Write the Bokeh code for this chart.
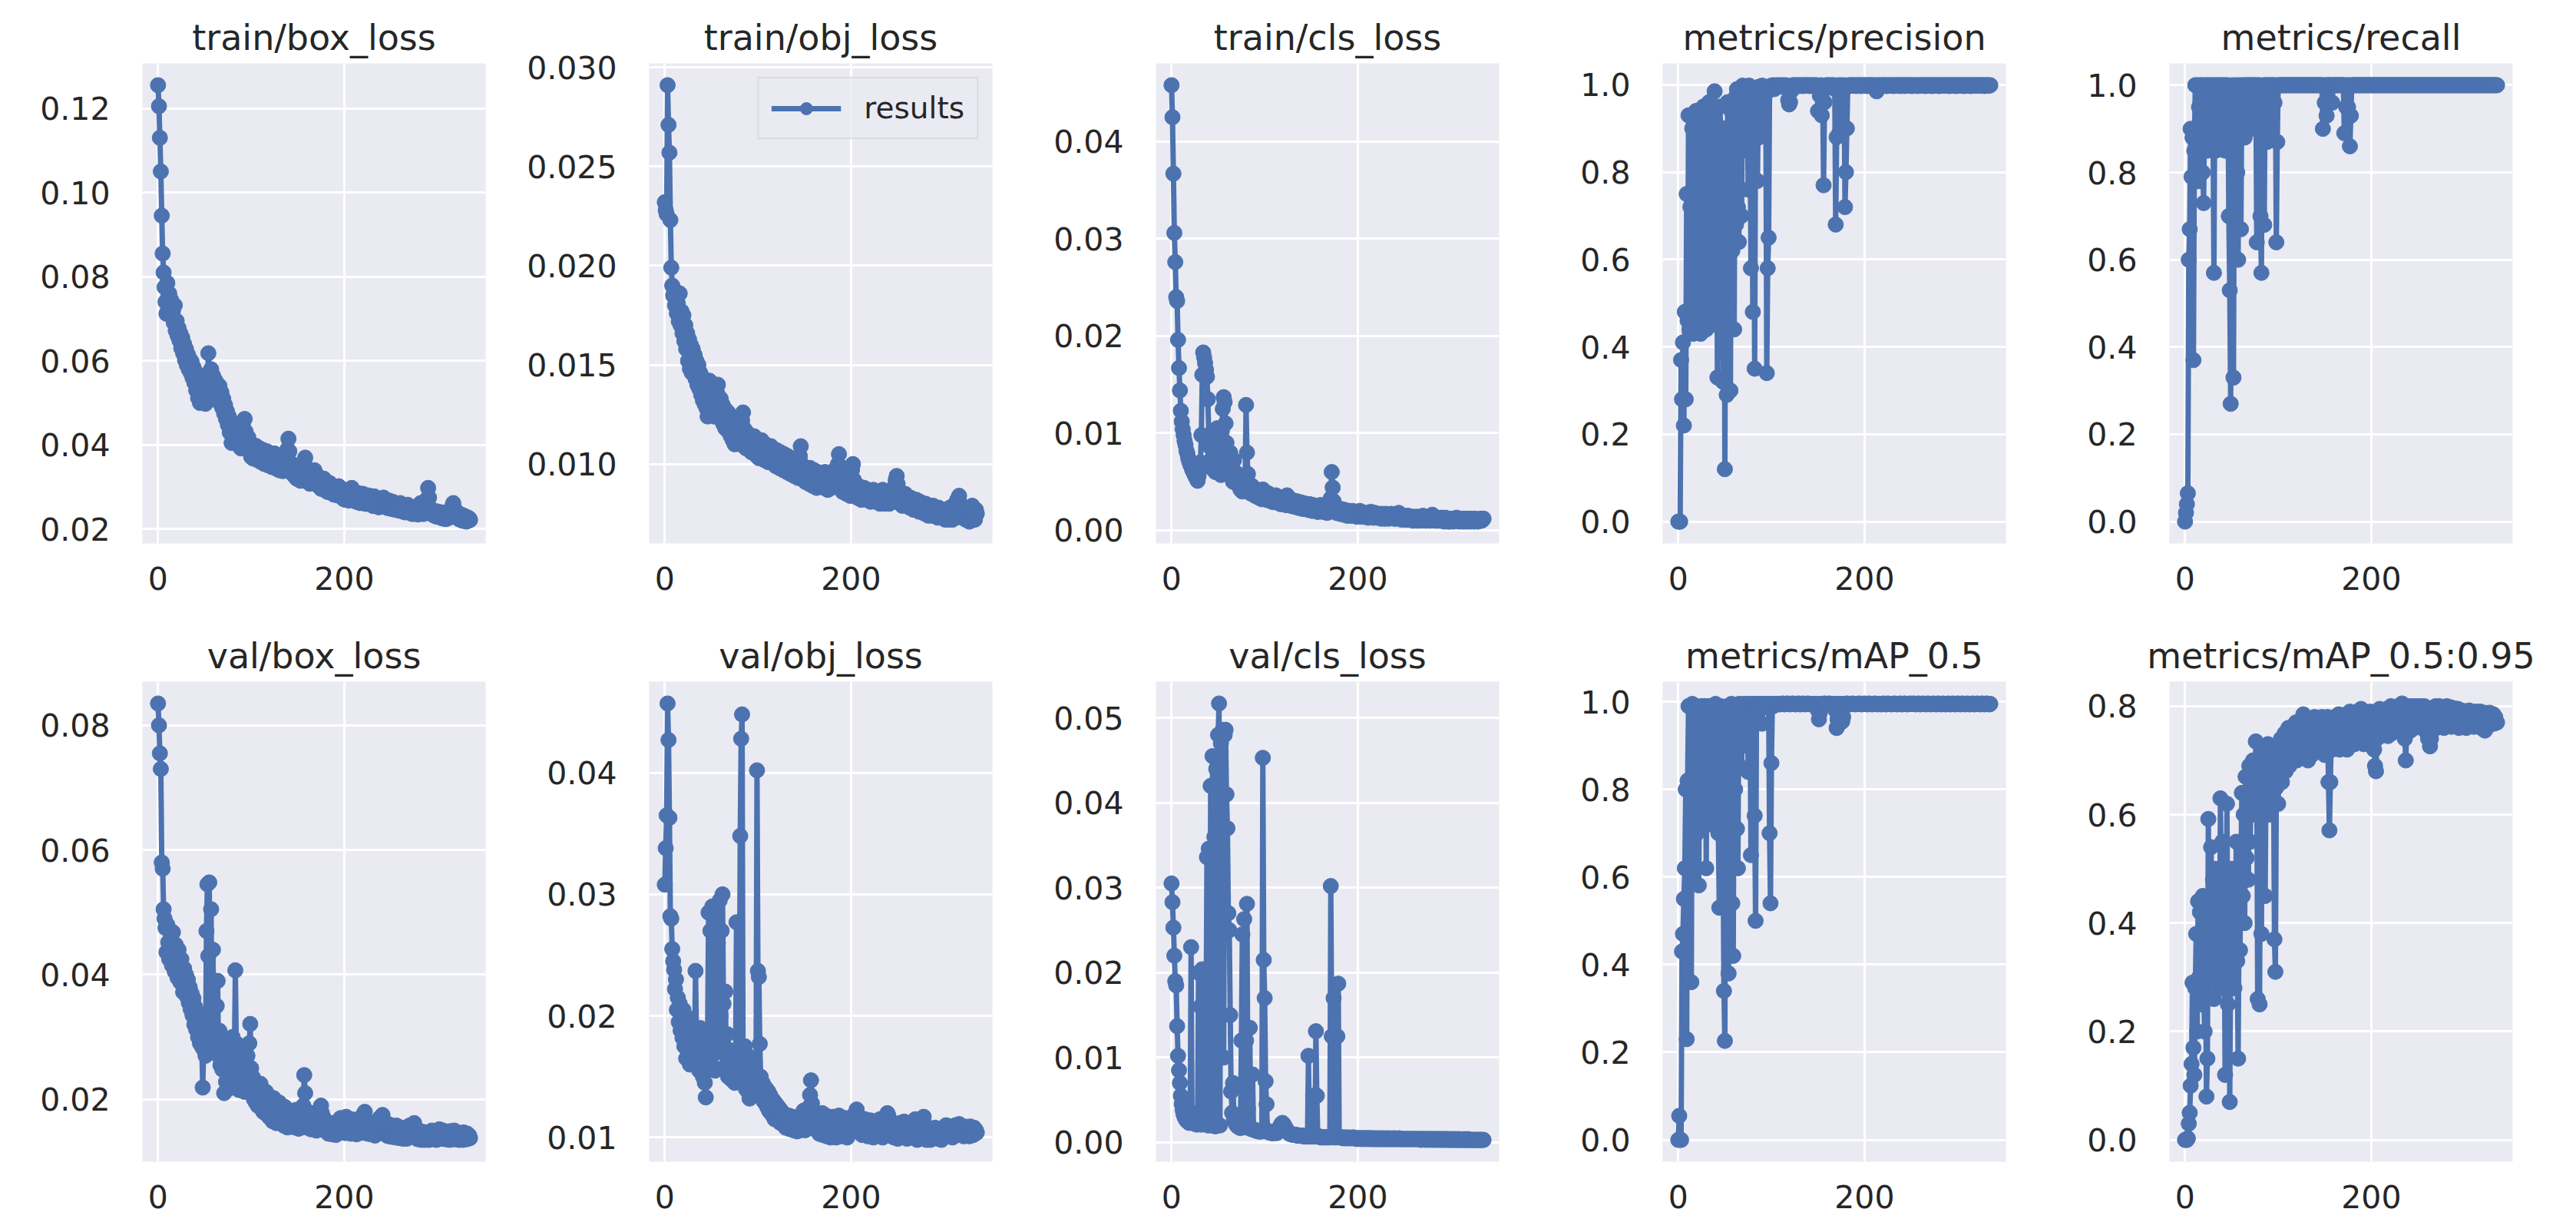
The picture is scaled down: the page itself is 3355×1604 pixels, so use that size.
from bokeh.plotting import figure
from bokeh.layouts import row, column
from bokeh.models import Range1d, FixedTicker, PrintfTickFormatter, Legend, LegendItem
from bokeh.embed import file_html
from bokeh.resources import INLINE

# ---- per-epoch training log (epochs 0..335) ----
train_box = [
    0.1255, 0.1205, 0.1130, 0.1050, 0.0945, 0.0855, 0.0810, 0.0775, 0.0740, 0.0712, 0.0785, 0.0752,
    0.0760, 0.0728, 0.0745, 0.0705, 0.0718, 0.0690, 0.0732, 0.0672, 0.0695, 0.0660, 0.0678, 0.0648,
    0.0665, 0.0630, 0.0655, 0.0618, 0.0640, 0.0602, 0.0628, 0.0590, 0.0615, 0.0580, 0.0605, 0.0572,
    0.0598, 0.0560, 0.0585, 0.0548, 0.0575, 0.0530, 0.0562, 0.0512, 0.0548, 0.0500, 0.0540, 0.0505,
    0.0552, 0.0515, 0.0545, 0.0498, 0.0560, 0.0525, 0.0618, 0.0572, 0.0550, 0.0580, 0.0535, 0.0565,
    0.0520, 0.0555, 0.0512, 0.0548, 0.0530, 0.0505, 0.0540, 0.0498, 0.0525, 0.0488, 0.0510, 0.0475,
    0.0495, 0.0462, 0.0480, 0.0448, 0.0468, 0.0430, 0.0455, 0.0405, 0.0440, 0.0418, 0.0452, 0.0425,
    0.0438, 0.0410, 0.0428, 0.0398, 0.0420, 0.0392, 0.0435, 0.0448, 0.0420, 0.0462, 0.0432, 0.0410,
    0.0395, 0.0418, 0.0385, 0.0402, 0.0372, 0.0395, 0.0368, 0.0390, 0.0375, 0.0398, 0.0365, 0.0385,
    0.0372, 0.0392, 0.0360, 0.0380, 0.0368, 0.0388, 0.0355, 0.0378, 0.0362, 0.0385, 0.0352, 0.0370,
    0.0358, 0.0378, 0.0348, 0.0372, 0.0355, 0.0380, 0.0345, 0.0365, 0.0350, 0.0372, 0.0340, 0.0362,
    0.0348, 0.0368, 0.0338, 0.0360, 0.0345, 0.0365, 0.0372, 0.0390, 0.0415, 0.0385, 0.0350, 0.0335,
    0.0355, 0.0330, 0.0348, 0.0325, 0.0342, 0.0320, 0.0340, 0.0318, 0.0338, 0.0315, 0.0345, 0.0322,
    0.0350, 0.0362, 0.0370, 0.0345, 0.0335, 0.0312, 0.0330, 0.0308, 0.0328, 0.0310, 0.0335, 0.0312,
    0.0340, 0.0318, 0.0330, 0.0305, 0.0325, 0.0302, 0.0318, 0.0296, 0.0315, 0.0298, 0.0320, 0.0295,
    0.0312, 0.0290, 0.0308, 0.0288, 0.0310, 0.0292, 0.0305, 0.0285, 0.0302, 0.0282, 0.0300, 0.0285,
    0.0298, 0.0280, 0.0302, 0.0283, 0.0296, 0.0278, 0.0295, 0.0272, 0.0292, 0.0270, 0.0290, 0.0275,
    0.0288, 0.0268, 0.0292, 0.0275, 0.0298, 0.0280, 0.0290, 0.0270, 0.0286, 0.0265, 0.0282, 0.0268,
    0.0285, 0.0262, 0.0280, 0.0266, 0.0284, 0.0270, 0.0278, 0.0260, 0.0276, 0.0262, 0.0280, 0.0264,
    0.0275, 0.0258, 0.0272, 0.0255, 0.0278, 0.0262, 0.0274, 0.0256, 0.0270, 0.0252, 0.0268, 0.0255,
    0.0272, 0.0258, 0.0275, 0.0260, 0.0270, 0.0252, 0.0266, 0.0250, 0.0268, 0.0254, 0.0262, 0.0248,
    0.0265, 0.0250, 0.0262, 0.0246, 0.0260, 0.0248, 0.0258, 0.0244, 0.0262, 0.0250, 0.0256, 0.0242,
    0.0255, 0.0240, 0.0252, 0.0242, 0.0258, 0.0245, 0.0250, 0.0238, 0.0248, 0.0236, 0.0252, 0.0240,
    0.0250, 0.0238, 0.0246, 0.0235, 0.0255, 0.0242, 0.0262, 0.0248, 0.0245, 0.0236, 0.0250, 0.0240,
    0.0258, 0.0272, 0.0298, 0.0275, 0.0250, 0.0240, 0.0246, 0.0234, 0.0244, 0.0232, 0.0240, 0.0230,
    0.0242, 0.0230, 0.0238, 0.0228, 0.0240, 0.0226, 0.0236, 0.0225, 0.0238, 0.0224, 0.0235, 0.0226,
    0.0240, 0.0228, 0.0245, 0.0232, 0.0255, 0.0262, 0.0250, 0.0236, 0.0242, 0.0228, 0.0238, 0.0224,
    0.0236, 0.0222, 0.0234, 0.0220, 0.0232, 0.0223, 0.0230, 0.0218, 0.0228, 0.0220, 0.0226, 0.0222,
]

train_obj = [
    0.0232, 0.0228, 0.0226, 0.0291, 0.0271, 0.0257, 0.0223, 0.0199, 0.0190, 0.0185, 0.0188, 0.0180,
    0.0184, 0.0176, 0.0181, 0.0172, 0.0186, 0.0170, 0.0177, 0.0166, 0.0175, 0.0162, 0.0170, 0.0158,
    0.0166, 0.0152, 0.0163, 0.0148, 0.0160, 0.0146, 0.0158, 0.0150, 0.0155, 0.0143, 0.0152, 0.0140,
    0.0150, 0.0138, 0.0146, 0.0135, 0.0144, 0.0132, 0.0140, 0.0130, 0.0138, 0.0128, 0.0124, 0.0135,
    0.0142, 0.0130, 0.0136, 0.0126, 0.0134, 0.0124, 0.0132, 0.0128, 0.0136, 0.0140, 0.0130, 0.0125,
    0.0133, 0.0122, 0.0130, 0.0120, 0.0128, 0.0118, 0.0127, 0.0121, 0.0126, 0.0116, 0.0124, 0.0114,
    0.0122, 0.0112, 0.0120, 0.0110, 0.0118, 0.0113, 0.0121, 0.0115, 0.0119, 0.0110, 0.0117, 0.0122,
    0.0126, 0.0118, 0.0114, 0.0108, 0.0116, 0.0110, 0.0115, 0.0107, 0.0113, 0.0106, 0.0112, 0.0108,
    0.0114, 0.0105, 0.0112, 0.0104, 0.0110, 0.0103, 0.0111, 0.0106, 0.0112, 0.0104, 0.0109, 0.0102,
    0.0110, 0.0103, 0.0108, 0.0101, 0.0107, 0.0102, 0.0109, 0.0104, 0.0106, 0.0100, 0.0105, 0.0099,
    0.0107, 0.0100, 0.0104, 0.0098, 0.0106, 0.0099, 0.0103, 0.0097, 0.0105, 0.0098, 0.0102, 0.0096,
    0.0104, 0.0097, 0.0101, 0.0095, 0.0103, 0.0096, 0.0100, 0.0094, 0.0102, 0.0095, 0.0099, 0.0093,
    0.0101, 0.0104, 0.0109, 0.0100, 0.0096, 0.0092, 0.0098, 0.0091, 0.0097, 0.0093, 0.0096, 0.0090,
    0.0098, 0.0092, 0.0095, 0.0089, 0.0097, 0.0091, 0.0094, 0.0088, 0.0096, 0.0090, 0.0093, 0.0089,
    0.0095, 0.0090, 0.0093, 0.0088, 0.0096, 0.0089, 0.0092, 0.0087, 0.0094, 0.0090, 0.0092, 0.0088,
    0.0094, 0.0089, 0.0096, 0.0091, 0.0098, 0.0093, 0.0100, 0.0105, 0.0099, 0.0092, 0.0090, 0.0086,
    0.0092, 0.0087, 0.0090, 0.0085, 0.0091, 0.0086, 0.0089, 0.0084, 0.0093, 0.0097, 0.0100, 0.0092,
    0.0088, 0.0084, 0.0087, 0.0083, 0.0089, 0.0085, 0.0088, 0.0082, 0.0087, 0.0084, 0.0088, 0.0083,
    0.0086, 0.0082, 0.0087, 0.0083, 0.0085, 0.0081, 0.0086, 0.0082, 0.0087, 0.0083, 0.0085, 0.0081,
    0.0086, 0.0082, 0.0084, 0.0080, 0.0085, 0.0081, 0.0087, 0.0082, 0.0084, 0.0080, 0.0085, 0.0081,
    0.0084, 0.0080, 0.0086, 0.0082, 0.0085, 0.0081, 0.0087, 0.0089, 0.0092, 0.0094, 0.0090, 0.0086,
    0.0083, 0.0080, 0.0084, 0.0079, 0.0083, 0.0080, 0.0085, 0.0081, 0.0083, 0.0079, 0.0082, 0.0078,
    0.0083, 0.0079, 0.0082, 0.0077, 0.0081, 0.0078, 0.0082, 0.0077, 0.0080, 0.0076, 0.0081, 0.0077,
    0.0080, 0.0076, 0.0079, 0.0075, 0.0080, 0.0076, 0.0078, 0.0074, 0.0079, 0.0075, 0.0078, 0.0074,
    0.0079, 0.0075, 0.0078, 0.0074, 0.0077, 0.0073, 0.0078, 0.0074, 0.0076, 0.0073, 0.0077, 0.0073,
    0.0076, 0.0072, 0.0077, 0.0073, 0.0075, 0.0072, 0.0078, 0.0074, 0.0076, 0.0072, 0.0079, 0.0075,
    0.0080, 0.0076, 0.0082, 0.0078, 0.0084, 0.0080, 0.0077, 0.0073, 0.0078, 0.0074, 0.0076, 0.0072,
    0.0078, 0.0073, 0.0076, 0.0071, 0.0077, 0.0073, 0.0079, 0.0074, 0.0076, 0.0072, 0.0077, 0.0075,
]

train_cls = [
    0.0458, 0.0425, 0.0367, 0.0306, 0.0276, 0.0240, 0.0236, 0.0196, 0.0167, 0.0144, 0.0123, 0.0112,
    0.0104, 0.0098, 0.0092, 0.0088, 0.0082, 0.0079, 0.0074, 0.0071, 0.0068, 0.0066, 0.0063, 0.0061,
    0.0059, 0.0057, 0.0055, 0.0053, 0.0051, 0.0056, 0.0062, 0.0070, 0.0098, 0.0160, 0.0183, 0.0178,
    0.0172, 0.0165, 0.0158, 0.0135, 0.0098, 0.0086, 0.0072, 0.0064, 0.0092, 0.0078, 0.0066, 0.0060,
    0.0098, 0.0105, 0.0085, 0.0070, 0.0062, 0.0057, 0.0102, 0.0125, 0.0137, 0.0132, 0.0110, 0.0090,
    0.0075, 0.0068, 0.0058, 0.0080, 0.0066, 0.0055, 0.0050, 0.0072, 0.0060, 0.0052, 0.0048, 0.0058,
    0.0050, 0.0045, 0.0042, 0.0048, 0.0040, 0.0052, 0.0044, 0.0046, 0.0129, 0.0080, 0.0058, 0.0048,
    0.0042, 0.0038, 0.0046, 0.0040, 0.0044, 0.0036, 0.0041, 0.0035, 0.0039, 0.0034, 0.0040, 0.0033,
    0.0038, 0.0032, 0.0042, 0.0036, 0.0040, 0.0033, 0.0037, 0.0031, 0.0038, 0.0032, 0.0036, 0.0030,
    0.0035, 0.0029, 0.0034, 0.0030, 0.0036, 0.0029, 0.0033, 0.0028, 0.0034, 0.0027, 0.0032, 0.0028,
    0.0033, 0.0027, 0.0031, 0.0026, 0.0036, 0.0030, 0.0032, 0.0026, 0.0030, 0.0025, 0.0031, 0.0026,
    0.0029, 0.0024, 0.0030, 0.0025, 0.0028, 0.0023, 0.0029, 0.0024, 0.0027, 0.0022, 0.0028, 0.0023,
    0.0027, 0.0022, 0.0026, 0.0021, 0.0027, 0.0022, 0.0025, 0.0020, 0.0026, 0.0021, 0.0024, 0.0020,
    0.0025, 0.0019, 0.0024, 0.0020, 0.0026, 0.0021, 0.0023, 0.0019, 0.0024, 0.0020, 0.0022, 0.0018,
    0.0023, 0.0019, 0.0026, 0.0033, 0.0060, 0.0044, 0.0030, 0.0022, 0.0021, 0.0018, 0.0023, 0.0019,
    0.0021, 0.0017, 0.0022, 0.0018, 0.0020, 0.0016, 0.0021, 0.0017, 0.0019, 0.0015, 0.0020, 0.0016,
    0.0019, 0.0015, 0.0020, 0.0016, 0.0018, 0.0015, 0.0019, 0.0014, 0.0018, 0.0015, 0.0020, 0.0016,
    0.0019, 0.0014, 0.0018, 0.0015, 0.0017, 0.0014, 0.0018, 0.0013, 0.0017, 0.0014, 0.0019, 0.0015,
    0.0017, 0.0013, 0.0018, 0.0014, 0.0016, 0.0013, 0.0017, 0.0014, 0.0016, 0.0012, 0.0017, 0.0013,
    0.0016, 0.0012, 0.0017, 0.0013, 0.0015, 0.0012, 0.0016, 0.0013, 0.0017, 0.0014, 0.0016, 0.0012,
    0.0015, 0.0012, 0.0016, 0.0013, 0.0018, 0.0014, 0.0015, 0.0011, 0.0014, 0.0012, 0.0015, 0.0011,
    0.0014, 0.0011, 0.0015, 0.0012, 0.0014, 0.0011, 0.0013, 0.0010, 0.0014, 0.0011, 0.0013, 0.0010,
    0.0014, 0.0011, 0.0013, 0.0010, 0.0014, 0.0011, 0.0015, 0.0012, 0.0013, 0.0010, 0.0014, 0.0011,
    0.0013, 0.0010, 0.0014, 0.0011, 0.0016, 0.0012, 0.0013, 0.0010, 0.0012, 0.0010, 0.0013, 0.0010,
    0.0012, 0.0010, 0.0013, 0.0010, 0.0012, 0.0009, 0.0013, 0.0010, 0.0012, 0.0009, 0.0011, 0.0009,
    0.0012, 0.0010, 0.0011, 0.0009, 0.0012, 0.0010, 0.0013, 0.0010, 0.0011, 0.0009, 0.0012, 0.0010,
    0.0011, 0.0009, 0.0012, 0.0010, 0.0011, 0.0009, 0.0012, 0.0010, 0.0011, 0.0009, 0.0012, 0.0010,
    0.0011, 0.0009, 0.0012, 0.0010, 0.0011, 0.0009, 0.0011, 0.0010, 0.0012, 0.0010, 0.0011, 0.0012,
]

precision = [
    0.000, 0.000, 0.000, 0.370, 0.280, 0.410, 0.220, 0.480, 0.280, 0.750, 0.460, 0.930,
    0.440, 0.720, 0.470, 0.900, 0.430, 0.880, 0.490, 0.940, 0.450, 0.860, 0.520, 0.920,
    0.430, 0.780, 0.600, 0.950, 0.480, 0.850, 0.440, 0.900, 0.620, 0.960, 0.500, 0.880,
    0.450, 0.820, 0.700, 0.985, 0.520, 0.910, 0.330, 0.880, 0.600, 0.950, 0.480, 0.830,
    0.320, 0.900, 0.120, 0.700, 0.290, 0.960, 0.450, 0.880, 0.300, 0.940, 0.620, 0.910,
    0.440, 0.970, 0.680, 0.990, 0.720, 0.640, 0.950, 0.990, 0.700, 0.998, 0.980, 0.850,
    0.995, 0.920, 0.990, 0.760, 0.998, 0.940, 0.580, 0.990, 0.480, 0.870, 0.350, 0.960,
    0.990, 0.780, 0.995, 0.880, 0.990, 0.970, 0.998, 0.900, 0.995, 0.990, 0.980, 0.340,
    0.580, 0.650, 0.990, 0.997, 0.998, 0.995, 0.999, 0.990, 0.998, 0.996, 0.999, 0.995,
    0.998, 0.999, 0.997, 0.996, 0.999, 0.998, 0.995, 0.999, 0.998, 0.990, 0.965, 0.955,
    0.960, 0.985, 0.997, 0.999, 0.998, 0.999, 0.997, 0.999, 0.998, 0.999, 0.997, 0.999,
    0.998, 0.999, 0.997, 0.999, 0.998, 0.999, 0.999, 0.998, 0.999, 0.997, 0.999, 0.998,
    0.999, 0.998, 0.999, 0.997, 0.999, 0.998, 0.940, 0.990, 0.975, 0.999, 0.930, 0.985,
    0.770, 0.960, 0.995, 0.999, 0.998, 0.999, 0.997, 0.999, 0.998, 0.999, 0.996, 0.999,
    0.990, 0.680, 0.880, 0.990, 0.999, 0.890, 0.998, 0.999, 0.997, 0.905, 0.999, 0.720,
    0.800, 0.900, 0.998, 0.999, 0.997, 0.999, 0.998, 0.999, 0.999, 0.998, 0.999, 0.997,
    0.999, 0.998, 0.999, 0.999, 0.997, 0.999, 0.998, 0.999, 0.999, 0.998, 0.999, 0.997,
    0.999, 0.998, 0.999, 0.999, 0.998, 0.999, 0.997, 0.999, 0.998, 0.985, 0.999, 0.998,
    0.999, 0.997, 0.999, 0.998, 0.999, 0.999, 0.998, 0.999, 0.997, 0.999, 0.998, 0.999,
    0.998, 0.999, 0.999, 0.997, 0.999, 0.998, 0.999, 0.999, 0.998, 0.999, 0.997, 0.999,
    0.999, 0.998, 0.999, 0.997, 0.999, 0.999, 0.998, 0.999, 0.998, 0.999, 0.999, 0.997,
    0.998, 0.999, 0.999, 0.998, 0.999, 0.997, 0.999, 0.998, 0.999, 0.999, 0.998, 0.999,
    0.999, 0.997, 0.999, 0.998, 0.999, 0.999, 0.998, 0.999, 0.997, 0.999, 0.999, 0.998,
    0.999, 0.999, 0.998, 0.999, 0.997, 0.999, 0.998, 0.999, 0.999, 0.998, 0.999, 0.999,
    0.998, 0.999, 0.999, 0.997, 0.999, 0.998, 0.999, 0.999, 0.998, 0.999, 0.997, 0.999,
    0.999, 0.998, 0.999, 0.999, 0.998, 0.999, 0.999, 0.997, 0.999, 0.998, 0.999, 0.999,
    0.998, 0.999, 0.997, 0.999, 0.999, 0.998, 0.999, 0.999, 0.998, 0.999, 0.999, 0.998,
    0.999, 0.999, 0.998, 0.999, 0.999, 0.997, 0.999, 0.998, 0.999, 0.999, 0.998, 0.999,
]

recall = [
    0.000, 0.020, 0.040, 0.065, 0.600, 0.670, 0.900, 0.790, 0.880, 0.370, 0.850, 1.000,
    0.820, 1.000, 0.780, 0.950, 1.000, 0.880, 1.000, 0.800, 0.730, 1.000, 0.900, 1.000,
    0.850, 1.000, 0.950, 1.000, 0.870, 1.000, 0.920, 0.570, 1.000, 0.850, 1.000, 0.950,
    1.000, 0.870, 1.000, 0.960, 1.000, 0.900, 1.000, 0.850, 1.000, 0.880, 1.000, 0.700,
    0.530, 0.270, 0.880, 1.000, 0.330, 0.950, 0.670, 1.000, 0.800, 0.600, 1.000, 0.880,
    0.670, 1.000, 0.900, 1.000, 0.880, 1.000, 0.950, 1.000, 1.000, 0.920, 1.000, 1.000,
    0.960, 1.000, 1.000, 0.900, 1.000, 0.640, 1.000, 0.950, 1.000, 0.700, 0.570, 0.950,
    1.000, 0.680, 1.000, 1.000, 0.870, 1.000, 0.960, 1.000, 1.000, 0.880, 1.000, 1.000,
    0.960, 1.000, 0.640, 0.870, 1.000, 1.000, 1.000, 1.000, 1.000, 1.000, 1.000, 1.000,
    1.000, 1.000, 1.000, 1.000, 1.000, 1.000, 1.000, 1.000, 1.000, 1.000, 1.000, 1.000,
    1.000, 1.000, 1.000, 1.000, 1.000, 1.000, 1.000, 1.000, 1.000, 1.000, 1.000, 1.000,
    1.000, 1.000, 1.000, 1.000, 1.000, 1.000, 1.000, 1.000, 1.000, 1.000, 1.000, 1.000,
    1.000, 1.000, 1.000, 1.000, 0.900, 1.000, 0.960, 1.000, 0.930, 1.000, 1.000, 1.000,
    1.000, 1.000, 0.960, 1.000, 1.000, 1.000, 1.000, 1.000, 1.000, 1.000, 1.000, 1.000,
    1.000, 1.000, 1.000, 0.890, 1.000, 0.950, 1.000, 0.950, 1.000, 0.860, 0.930, 1.000,
    1.000, 1.000, 1.000, 1.000, 1.000, 1.000, 1.000, 1.000, 1.000, 1.000, 1.000, 1.000,
    1.000, 1.000, 1.000, 1.000, 1.000, 1.000, 1.000, 1.000, 1.000, 1.000, 1.000, 1.000,
    1.000, 1.000, 1.000, 1.000, 1.000, 1.000, 1.000, 1.000, 1.000, 1.000, 1.000, 1.000,
    1.000, 1.000, 1.000, 1.000, 1.000, 1.000, 1.000, 1.000, 1.000, 1.000, 1.000, 1.000,
    1.000, 1.000, 1.000, 1.000, 1.000, 1.000, 1.000, 1.000, 1.000, 1.000, 1.000, 1.000,
    1.000, 1.000, 1.000, 1.000, 1.000, 1.000, 1.000, 1.000, 1.000, 1.000, 1.000, 1.000,
    1.000, 1.000, 1.000, 1.000, 1.000, 1.000, 1.000, 1.000, 1.000, 1.000, 1.000, 1.000,
    1.000, 1.000, 1.000, 1.000, 1.000, 1.000, 1.000, 1.000, 1.000, 1.000, 1.000, 1.000,
    1.000, 1.000, 1.000, 1.000, 1.000, 1.000, 1.000, 1.000, 1.000, 1.000, 1.000, 1.000,
    1.000, 1.000, 1.000, 1.000, 1.000, 1.000, 1.000, 1.000, 1.000, 1.000, 1.000, 1.000,
    1.000, 1.000, 1.000, 1.000, 1.000, 1.000, 1.000, 1.000, 1.000, 1.000, 1.000, 1.000,
    1.000, 1.000, 1.000, 1.000, 1.000, 1.000, 1.000, 1.000, 1.000, 1.000, 1.000, 1.000,
    1.000, 1.000, 1.000, 1.000, 1.000, 1.000, 1.000, 1.000, 1.000, 1.000, 1.000, 1.000,
]

val_box = [
    0.0835, 0.0800, 0.0755, 0.0730, 0.0580, 0.0570, 0.0505, 0.0490, 0.0475, 0.0436, 0.0480, 0.0452,
    0.0425, 0.0470, 0.0440, 0.0415, 0.0468, 0.0430, 0.0405, 0.0448, 0.0418, 0.0395, 0.0440, 0.0410,
    0.0388, 0.0425, 0.0395, 0.0372, 0.0410, 0.0380, 0.0400, 0.0365, 0.0392, 0.0355, 0.0380, 0.0345,
    0.0370, 0.0335, 0.0362, 0.0320, 0.0348, 0.0312, 0.0340, 0.0300, 0.0330, 0.0290, 0.0318, 0.0285,
    0.0219, 0.0280, 0.0310, 0.0270, 0.0470, 0.0545, 0.0430, 0.0548, 0.0330, 0.0505, 0.0280, 0.0440,
    0.0300, 0.0390, 0.0290, 0.0350, 0.0390, 0.0270, 0.0310, 0.0255, 0.0292, 0.0248, 0.0280, 0.0210,
    0.0265, 0.0228, 0.0290, 0.0240, 0.0275, 0.0218, 0.0262, 0.0230, 0.0300, 0.0245, 0.0270, 0.0407,
    0.0290, 0.0230, 0.0265, 0.0215, 0.0250, 0.0225, 0.0285, 0.0238, 0.0260, 0.0212, 0.0248, 0.0220,
    0.0270, 0.0235, 0.0290, 0.0321, 0.0250, 0.0215, 0.0235, 0.0200, 0.0228, 0.0195, 0.0222, 0.0190,
    0.0215, 0.0188, 0.0225, 0.0192, 0.0210, 0.0180, 0.0205, 0.0178, 0.0212, 0.0182, 0.0200, 0.0172,
    0.0198, 0.0170, 0.0192, 0.0165, 0.0202, 0.0175, 0.0190, 0.0162, 0.0185, 0.0168, 0.0195, 0.0170,
    0.0185, 0.0162, 0.0180, 0.0158, 0.0188, 0.0165, 0.0178, 0.0155, 0.0182, 0.0160, 0.0175, 0.0158,
    0.0180, 0.0157, 0.0176, 0.0155, 0.0183, 0.0160, 0.0175, 0.0153, 0.0178, 0.0158, 0.0172, 0.0155,
    0.0190, 0.0239, 0.0210, 0.0175, 0.0160, 0.0180, 0.0158, 0.0175, 0.0152, 0.0170, 0.0155, 0.0178,
    0.0160, 0.0172, 0.0150, 0.0168, 0.0155, 0.0175, 0.0182, 0.0190, 0.0178, 0.0160, 0.0170, 0.0150,
    0.0165, 0.0148, 0.0162, 0.0145, 0.0160, 0.0147, 0.0158, 0.0144, 0.0162, 0.0148, 0.0155, 0.0143,
    0.0160, 0.0146, 0.0165, 0.0150, 0.0170, 0.0155, 0.0168, 0.0150, 0.0162, 0.0146, 0.0172, 0.0158,
    0.0165, 0.0148, 0.0160, 0.0145, 0.0168, 0.0152, 0.0162, 0.0147, 0.0158, 0.0144, 0.0165, 0.0150,
    0.0160, 0.0146, 0.0168, 0.0155, 0.0175, 0.0160, 0.0180, 0.0165, 0.0158, 0.0145, 0.0162, 0.0148,
    0.0158, 0.0144, 0.0162, 0.0147, 0.0156, 0.0142, 0.0160, 0.0146, 0.0165, 0.0150, 0.0170, 0.0156,
    0.0168, 0.0175, 0.0160, 0.0148, 0.0158, 0.0143, 0.0155, 0.0141, 0.0160, 0.0145, 0.0154, 0.0140,
    0.0156, 0.0142, 0.0152, 0.0139, 0.0158, 0.0144, 0.0150, 0.0138, 0.0155, 0.0141, 0.0150, 0.0137,
    0.0153, 0.0140, 0.0148, 0.0137, 0.0155, 0.0142, 0.0158, 0.0145, 0.0152, 0.0140, 0.0148, 0.0162,
    0.0150, 0.0138, 0.0146, 0.0136, 0.0150, 0.0139, 0.0145, 0.0135, 0.0148, 0.0137, 0.0144, 0.0135,
    0.0147, 0.0136, 0.0143, 0.0135, 0.0146, 0.0137, 0.0150, 0.0140, 0.0145, 0.0136, 0.0142, 0.0135,
    0.0148, 0.0138, 0.0152, 0.0141, 0.0147, 0.0137, 0.0150, 0.0139, 0.0145, 0.0136, 0.0148, 0.0138,
    0.0144, 0.0135, 0.0149, 0.0139, 0.0146, 0.0136, 0.0150, 0.0140, 0.0145, 0.0136, 0.0143, 0.0135,
    0.0146, 0.0137, 0.0144, 0.0135, 0.0147, 0.0138, 0.0143, 0.0136, 0.0145, 0.0137, 0.0142, 0.0138,
]

val_obj = [
    0.0308, 0.0338, 0.0365, 0.0457, 0.0427, 0.0363, 0.0282, 0.0280, 0.0255, 0.0245, 0.0238, 0.0222,
    0.0230, 0.0205, 0.0215, 0.0195, 0.0210, 0.0188, 0.0200, 0.0182, 0.0205, 0.0175, 0.0195, 0.0165,
    0.0188, 0.0170, 0.0198, 0.0160, 0.0185, 0.0172, 0.0192, 0.0165, 0.0180, 0.0237, 0.0185, 0.0162,
    0.0178, 0.0155, 0.0190, 0.0160, 0.0175, 0.0150, 0.0170, 0.0145, 0.0133, 0.0160, 0.0185, 0.0285,
    0.0175, 0.0270, 0.0160, 0.0290, 0.0180, 0.0250, 0.0155, 0.0280, 0.0170, 0.0260, 0.0190, 0.0295,
    0.0200, 0.0270, 0.0300, 0.0210, 0.0175, 0.0220, 0.0160, 0.0185, 0.0150, 0.0172, 0.0158, 0.0148,
    0.0165, 0.0152, 0.0170, 0.0145, 0.0160, 0.0277, 0.0160, 0.0150, 0.0170, 0.0348, 0.0428, 0.0448,
    0.0160, 0.0145, 0.0175, 0.0140, 0.0168, 0.0138, 0.0155, 0.0132, 0.0160, 0.0140, 0.0150, 0.0135,
    0.0158, 0.0138, 0.0150, 0.0402, 0.0237, 0.0232, 0.0177, 0.0150, 0.0135, 0.0145, 0.0130, 0.0142,
    0.0128, 0.0140, 0.0125, 0.0138, 0.0122, 0.0135, 0.0120, 0.0132, 0.0118, 0.0130, 0.0115, 0.0128,
    0.0118, 0.0126, 0.0114, 0.0124, 0.0112, 0.0122, 0.0115, 0.0120, 0.0110, 0.0118, 0.0108, 0.0116,
    0.0110, 0.0118, 0.0107, 0.0115, 0.0109, 0.0117, 0.0106, 0.0114, 0.0108, 0.0116, 0.0105, 0.0113,
    0.0108, 0.0115, 0.0106, 0.0114, 0.0118, 0.0122, 0.0112, 0.0106, 0.0115, 0.0108, 0.0120, 0.0125,
    0.0135, 0.0147, 0.0128, 0.0118, 0.0110, 0.0120, 0.0108, 0.0116, 0.0105, 0.0118, 0.0103, 0.0115,
    0.0108, 0.0120, 0.0102, 0.0114, 0.0106, 0.0118, 0.0101, 0.0112, 0.0104, 0.0116, 0.0100, 0.0113,
    0.0105, 0.0117, 0.0102, 0.0112, 0.0100, 0.0115, 0.0104, 0.0118, 0.0106, 0.0112, 0.0101, 0.0114,
    0.0106, 0.0116, 0.0103, 0.0113, 0.0100, 0.0111, 0.0104, 0.0115, 0.0107, 0.0117, 0.0105, 0.0118,
    0.0110, 0.0120, 0.0123, 0.0115, 0.0108, 0.0117, 0.0104, 0.0113, 0.0102, 0.0112, 0.0105, 0.0115,
    0.0103, 0.0112, 0.0101, 0.0110, 0.0104, 0.0114, 0.0102, 0.0111, 0.0100, 0.0110, 0.0104, 0.0113,
    0.0102, 0.0112, 0.0106, 0.0115, 0.0103, 0.0112, 0.0100, 0.0110, 0.0105, 0.0116, 0.0110, 0.0120,
    0.0118, 0.0110, 0.0104, 0.0113, 0.0101, 0.0110, 0.0100, 0.0108, 0.0102, 0.0111, 0.0099, 0.0108,
    0.0103, 0.0112, 0.0100, 0.0109, 0.0104, 0.0113, 0.0101, 0.0110, 0.0099, 0.0107, 0.0102, 0.0111,
    0.0100, 0.0109, 0.0103, 0.0112, 0.0106, 0.0115, 0.0100, 0.0098, 0.0104, 0.0099, 0.0106, 0.0100,
    0.0108, 0.0114, 0.0117, 0.0110, 0.0103, 0.0098, 0.0105, 0.0099, 0.0103, 0.0098, 0.0104, 0.0099,
    0.0106, 0.0100, 0.0108, 0.0101, 0.0105, 0.0099, 0.0107, 0.0100, 0.0104, 0.0098, 0.0106, 0.0101,
    0.0108, 0.0102, 0.0110, 0.0103, 0.0107, 0.0101, 0.0109, 0.0102, 0.0106, 0.0100, 0.0108, 0.0103,
    0.0110, 0.0104, 0.0108, 0.0102, 0.0111, 0.0105, 0.0109, 0.0103, 0.0107, 0.0101, 0.0109, 0.0104,
    0.0108, 0.0102, 0.0106, 0.0101, 0.0109, 0.0103, 0.0107, 0.0102, 0.0108, 0.0103, 0.0106, 0.0104,
]

val_cls = [
    0.0305, 0.0283, 0.0253, 0.0220, 0.0190, 0.0185, 0.0137, 0.0102, 0.0085, 0.0070, 0.0055, 0.0045,
    0.0038, 0.0033, 0.0030, 0.0028, 0.0026, 0.0025, 0.0024, 0.0023, 0.0025, 0.0230, 0.0028, 0.0024,
    0.0023, 0.0022, 0.0022, 0.0021, 0.0035, 0.0200, 0.0022, 0.0160, 0.0021, 0.0204, 0.0030, 0.0190,
    0.0025, 0.0110, 0.0336, 0.0020, 0.0346, 0.0060, 0.0420, 0.0020, 0.0455, 0.0110, 0.0360, 0.0019,
    0.0440, 0.0280, 0.0480, 0.0517, 0.0020, 0.0470, 0.0350, 0.0486, 0.0100, 0.0480, 0.0486, 0.0410,
    0.0370, 0.0270, 0.0250, 0.0150, 0.0060, 0.0035, 0.0070, 0.0028, 0.0025, 0.0022, 0.0020, 0.0019,
    0.0018, 0.0018, 0.0017, 0.0120, 0.0245, 0.0018, 0.0263, 0.0030, 0.0120, 0.0281, 0.0040, 0.0017,
    0.0135, 0.0016, 0.0016, 0.0080, 0.0015, 0.0015, 0.0014, 0.0014, 0.0014, 0.0013, 0.0013, 0.0013,
    0.0013, 0.0013, 0.0453, 0.0215, 0.0170, 0.0072, 0.0045, 0.0014, 0.0012, 0.0012, 0.0012, 0.0011,
    0.0011, 0.0011, 0.0011, 0.0012, 0.0012, 0.0011, 0.0013, 0.0015, 0.0018, 0.0020, 0.0022, 0.0023,
    0.0022, 0.0020, 0.0018, 0.0016, 0.0014, 0.0012, 0.0011, 0.0010, 0.0010, 0.0010, 0.0009, 0.0009,
    0.0009, 0.0009, 0.0009, 0.0008, 0.0008, 0.0008, 0.0008, 0.0008, 0.0008, 0.0008, 0.0007, 0.0007,
    0.0007, 0.0007, 0.0007, 0.0102, 0.0008, 0.0007, 0.0007, 0.0007, 0.0055, 0.0007, 0.0007, 0.0131,
    0.0055, 0.0007, 0.0007, 0.0007, 0.0006, 0.0006, 0.0006, 0.0006, 0.0006, 0.0006, 0.0006, 0.0006,
    0.0006, 0.0006, 0.0006, 0.0302, 0.0125, 0.0006, 0.0170, 0.0006, 0.0006, 0.0006, 0.0125, 0.0187,
    0.0006, 0.0006, 0.0006, 0.0006, 0.0005, 0.0005, 0.0006, 0.0005, 0.0005, 0.0005, 0.0006, 0.0005,
    0.0005, 0.0005, 0.0005, 0.0006, 0.0005, 0.0005, 0.0005, 0.0004, 0.0005, 0.0005, 0.0005, 0.0004,
    0.0005, 0.0005, 0.0004, 0.0005, 0.0005, 0.0004, 0.0005, 0.0005, 0.0004, 0.0005, 0.0004, 0.0005,
    0.0004, 0.0005, 0.0004, 0.0004, 0.0005, 0.0004, 0.0004, 0.0005, 0.0004, 0.0004, 0.0005, 0.0004,
    0.0004, 0.0004, 0.0005, 0.0004, 0.0004, 0.0004, 0.0005, 0.0004, 0.0004, 0.0004, 0.0004, 0.0005,
    0.0004, 0.0004, 0.0004, 0.0004, 0.0005, 0.0004, 0.0004, 0.0004, 0.0004, 0.0004, 0.0004, 0.0004,
    0.0004, 0.0004, 0.0004, 0.0004, 0.0004, 0.0004, 0.0004, 0.0004, 0.0004, 0.0004, 0.0004, 0.0004,
    0.0004, 0.0004, 0.0004, 0.0004, 0.0003, 0.0004, 0.0004, 0.0004, 0.0004, 0.0003, 0.0004, 0.0004,
    0.0004, 0.0003, 0.0004, 0.0004, 0.0004, 0.0003, 0.0004, 0.0004, 0.0003, 0.0004, 0.0004, 0.0003,
    0.0004, 0.0004, 0.0003, 0.0004, 0.0003, 0.0004, 0.0004, 0.0003, 0.0004, 0.0003, 0.0004, 0.0003,
    0.0003, 0.0004, 0.0003, 0.0004, 0.0003, 0.0003, 0.0004, 0.0003, 0.0003, 0.0004, 0.0003, 0.0003,
    0.0003, 0.0003, 0.0004, 0.0003, 0.0003, 0.0003, 0.0004, 0.0003, 0.0003, 0.0003, 0.0003, 0.0003,
    0.0003, 0.0003, 0.0003, 0.0003, 0.0003, 0.0003, 0.0003, 0.0003, 0.0003, 0.0003, 0.0003, 0.0003,
]

map50 = [
    0.000, 0.055, 0.000, 0.000, 0.430, 0.470, 0.550, 0.620, 0.800, 0.230, 0.820, 0.990,
    0.800, 0.610, 0.360, 0.995, 0.600, 0.950, 0.750, 0.990, 0.700, 0.980, 0.581, 0.960,
    0.800, 0.990, 0.720, 0.950, 0.850, 0.990, 0.620, 0.960, 0.720, 0.990, 0.800, 0.930,
    0.990, 0.750, 0.980, 0.720, 0.995, 0.850, 0.990, 0.700, 0.530, 0.990, 0.800, 0.950,
    0.700, 0.340, 0.226, 0.900, 0.530, 0.990, 0.380, 0.970, 0.720, 0.995, 0.540, 0.420,
    0.980, 0.800, 0.990, 0.710, 0.620, 0.995, 0.900, 0.990, 0.850, 0.995, 0.980, 0.990,
    0.995, 0.900, 0.990, 0.840, 0.995, 0.990, 0.650, 0.995, 0.980, 0.995, 0.740, 0.500,
    0.995, 0.990, 0.995, 0.980, 0.995, 0.990, 0.950, 0.995, 0.990, 0.995, 0.995, 0.990,
    0.995, 0.995, 0.700, 0.540, 0.860, 0.995, 0.990, 0.995, 0.995, 0.995, 0.995, 0.995,
    0.995, 0.994, 0.995, 0.995, 0.996, 0.995, 0.994, 0.995, 0.995, 0.996, 0.995, 0.995,
    0.994, 0.995, 0.995, 0.996, 0.995, 0.995, 0.994, 0.995, 0.995, 0.996, 0.995, 0.994,
    0.995, 0.995, 0.996, 0.995, 0.994, 0.995, 0.995, 0.996, 0.995, 0.995, 0.994, 0.995,
    0.995, 0.995, 0.995, 0.995, 0.995, 0.990, 0.980, 0.960, 0.975, 0.995, 0.995, 0.995,
    0.995, 0.996, 0.995, 0.994, 0.995, 0.995, 0.996, 0.995, 0.995, 0.994, 0.995, 0.995,
    0.995, 0.980, 0.940, 0.960, 0.995, 0.950, 0.995, 0.970, 0.955, 0.965, 0.995, 0.995,
    0.995, 0.996, 0.995, 0.995, 0.994, 0.995, 0.995, 0.996, 0.995, 0.995, 0.994, 0.995,
    0.995, 0.995, 0.996, 0.995, 0.995, 0.994, 0.995, 0.995, 0.996, 0.995, 0.995, 0.994,
    0.995, 0.996, 0.995, 0.995, 0.994, 0.995, 0.995, 0.996, 0.995, 0.995, 0.994, 0.995,
    0.995, 0.995, 0.994, 0.995, 0.996, 0.995, 0.995, 0.994, 0.995, 0.996, 0.995, 0.995,
    0.995, 0.994, 0.995, 0.995, 0.996, 0.995, 0.995, 0.994, 0.995, 0.995, 0.996, 0.995,
    0.994, 0.995, 0.995, 0.996, 0.995, 0.995, 0.994, 0.995, 0.995, 0.996, 0.995, 0.995,
    0.995, 0.996, 0.995, 0.994, 0.995, 0.995, 0.996, 0.995, 0.994, 0.995, 0.995, 0.996,
    0.995, 0.995, 0.994, 0.995, 0.996, 0.995, 0.995, 0.994, 0.995, 0.995, 0.996, 0.995,
    0.995, 0.994, 0.995, 0.996, 0.995, 0.995, 0.994, 0.995, 0.996, 0.995, 0.995, 0.994,
    0.995, 0.995, 0.996, 0.995, 0.994, 0.995, 0.995, 0.996, 0.995, 0.994, 0.995, 0.995,
    0.996, 0.995, 0.995, 0.994, 0.995, 0.996, 0.995, 0.995, 0.994, 0.995, 0.996, 0.995,
    0.995, 0.994, 0.995, 0.995, 0.996, 0.995, 0.994, 0.995, 0.995, 0.996, 0.995, 0.995,
    0.994, 0.995, 0.996, 0.995, 0.995, 0.994, 0.995, 0.996, 0.995, 0.995, 0.994, 0.995,
]

map50_95 = [
    0.000, 0.000, 0.000, 0.003, 0.030, 0.050, 0.100, 0.140, 0.290, 0.170, 0.120, 0.280,
    0.380, 0.200, 0.440, 0.300, 0.420, 0.250, 0.350, 0.450, 0.280, 0.200, 0.320, 0.080,
    0.150, 0.592, 0.400, 0.300, 0.540, 0.350, 0.480, 0.260, 0.420, 0.500, 0.330, 0.460,
    0.380, 0.300, 0.630, 0.420, 0.550, 0.280, 0.450, 0.120, 0.380, 0.620, 0.250, 0.400,
    0.070, 0.350, 0.500, 0.300, 0.450, 0.280, 0.400, 0.550, 0.330, 0.150, 0.420, 0.350,
    0.500, 0.640, 0.450, 0.600, 0.400, 0.670, 0.520, 0.630, 0.480, 0.690, 0.550, 0.660,
    0.600, 0.700, 0.650, 0.620, 0.735, 0.680, 0.260, 0.700, 0.250, 0.650, 0.380, 0.710,
    0.600, 0.720, 0.450, 0.690, 0.650, 0.730, 0.600, 0.700, 0.660, 0.720, 0.640, 0.690,
    0.370, 0.310, 0.650, 0.720, 0.620, 0.700, 0.680, 0.740, 0.660, 0.720, 0.690, 0.750,
    0.680, 0.730, 0.700, 0.760, 0.690, 0.740, 0.710, 0.760, 0.700, 0.750, 0.720, 0.770,
    0.700, 0.750, 0.720, 0.770, 0.710, 0.760, 0.730, 0.785, 0.740, 0.770, 0.720, 0.760,
    0.700, 0.750, 0.730, 0.770, 0.710, 0.760, 0.740, 0.780, 0.720, 0.765, 0.735, 0.775,
    0.720, 0.760, 0.740, 0.780, 0.730, 0.770, 0.710, 0.760, 0.740, 0.780, 0.660, 0.571,
    0.660, 0.740, 0.720, 0.770, 0.740, 0.780, 0.730, 0.775, 0.745, 0.785, 0.720, 0.770,
    0.740, 0.780, 0.730, 0.770, 0.750, 0.785, 0.720, 0.775, 0.745, 0.790, 0.735, 0.770,
    0.750, 0.785, 0.730, 0.775, 0.755, 0.790, 0.740, 0.780, 0.760, 0.795, 0.745, 0.780,
    0.730, 0.770, 0.750, 0.785, 0.740, 0.775, 0.755, 0.790, 0.735, 0.780, 0.760, 0.720,
    0.690, 0.680, 0.740, 0.780, 0.760, 0.795, 0.745, 0.785, 0.765, 0.790, 0.750, 0.780,
    0.760, 0.795, 0.745, 0.785, 0.770, 0.800, 0.750, 0.790, 0.765, 0.795, 0.755, 0.785,
    0.770, 0.800, 0.760, 0.790, 0.775, 0.805, 0.760, 0.790, 0.740, 0.700, 0.760, 0.790,
    0.770, 0.800, 0.755, 0.790, 0.775, 0.800, 0.760, 0.795, 0.770, 0.800, 0.765, 0.790,
    0.775, 0.800, 0.760, 0.795, 0.770, 0.800, 0.765, 0.790, 0.750, 0.740, 0.760, 0.726,
    0.740, 0.785, 0.765, 0.795, 0.770, 0.800, 0.760, 0.790, 0.775, 0.800, 0.765, 0.795,
    0.770, 0.798, 0.760, 0.790, 0.775, 0.800, 0.765, 0.795, 0.770, 0.798, 0.762, 0.790,
    0.772, 0.796, 0.765, 0.790, 0.775, 0.795, 0.760, 0.788, 0.770, 0.792, 0.765, 0.788,
    0.770, 0.790, 0.760, 0.785, 0.772, 0.792, 0.765, 0.788, 0.775, 0.790, 0.762, 0.785,
    0.770, 0.790, 0.765, 0.786, 0.775, 0.790, 0.760, 0.782, 0.770, 0.788, 0.755, 0.780,
    0.765, 0.785, 0.770, 0.788, 0.766, 0.782, 0.772, 0.785, 0.768, 0.780, 0.772, 0.770,
]

# panel titles, value series, y tick positions and tick label formats (row-major 2 x 5)
titles = ["train/box_loss", "train/obj_loss", "train/cls_loss", "metrics/precision", "metrics/recall",
          "val/box_loss", "val/obj_loss", "val/cls_loss", "metrics/mAP_0.5", "metrics/mAP_0.5:0.95"]
series = [train_box, train_obj, train_cls, precision, recall,
          val_box, val_obj, val_cls, map50, map50_95]
y_ticks = [
    [0.02, 0.04, 0.06, 0.08, 0.10, 0.12],
    [0.010, 0.015, 0.020, 0.025, 0.030],
    [0.00, 0.01, 0.02, 0.03, 0.04],
    [0.0, 0.2, 0.4, 0.6, 0.8, 1.0],
    [0.0, 0.2, 0.4, 0.6, 0.8, 1.0],
    [0.02, 0.04, 0.06, 0.08],
    [0.01, 0.02, 0.03, 0.04],
    [0.00, 0.01, 0.02, 0.03, 0.04, 0.05],
    [0.0, 0.2, 0.4, 0.6, 0.8, 1.0],
    [0.0, 0.2, 0.4, 0.6, 0.8],
]
y_formats = ["%.2f", "%.3f", "%.2f", "%.1f", "%.1f",
             "%.2f", "%.2f", "%.2f", "%.1f", "%.1f"]
x_ticks = [0, 200]
legend_label = "results"

BLUE = "#4C72B0"
PANEL_BG = "#EAEAF2"
INK = "#262626"
FONT = "DejaVu Sans"


def make_panel(title, values, yticks, yfmt, top_row, last_col, with_legend):
    x = list(range(len(values)))
    last = len(values) - 1
    lo, hi = min(values), max(values)
    pad = 0.05 * (hi - lo)
    p = figure(
        frame_width=447, frame_height=625,
        min_border_left=185, min_border_right=83 if last_col else 28,
        min_border_top=82, min_border_bottom=98 if top_row else 88,
        x_range=Range1d(-0.05 * last, 1.05 * last),
        y_range=Range1d(lo - pad, hi + pad),
        output_backend="svg", toolbar_location=None, title=title,
    )
    p.background_fill_color = PANEL_BG
    p.border_fill_color = "white"
    p.outline_line_color = None

    p.title.text_font = FONT
    p.title.text_font_size = "46px"
    p.title.text_font_style = "normal"
    p.title.text_color = INK
    p.title.align = "center"
    p.title.standoff = 14

    p.grid.grid_line_color = "white"
    p.grid.grid_line_width = 3

    for ax in (p.xaxis[0], p.yaxis[0]):
        ax.axis_line_color = None
        ax.major_tick_line_color = None
        ax.minor_tick_line_color = None
        ax.major_tick_in = 0
        ax.major_tick_out = 0
        ax.major_label_text_font = FONT
        ax.major_label_text_font_size = "41px"
        ax.major_label_text_color = INK
    p.xaxis.ticker = FixedTicker(ticks=x_ticks, minor_ticks=[])
    p.xaxis.formatter = PrintfTickFormatter(format="%d")
    p.xaxis.major_label_standoff = 30
    p.yaxis.ticker = FixedTicker(ticks=yticks, minor_ticks=[])
    p.yaxis.formatter = PrintfTickFormatter(format=yfmt)
    p.yaxis.major_label_standoff = 42

    line = p.line(x, values, line_color=BLUE, line_width=7)
    dots = p.scatter(x, values, size=20, fill_color=BLUE, line_color=BLUE, line_width=1)

    if with_legend:
        legend = Legend(
            items=[LegendItem(label=legend_label, renderers=[line, dots])],
            location="top_right",
            label_text_font=FONT, label_text_font_size="39px", label_text_color=INK,
            glyph_width=91, glyph_height=40, label_standoff=30,
            padding=16, margin=18, spacing=0,
            border_line_color="#CCCCCC", border_line_width=2,
            background_fill_color=PANEL_BG, background_fill_alpha=0.8,
        )
        p.add_layout(legend)
    return p


panels = []
for i, (t, v, yt, yf) in enumerate(zip(titles, series, y_ticks, y_formats)):
    panels.append(make_panel(t, v, yt, yf, top_row=i < 5, last_col=(i % 5 == 4),
                             with_legend=(i == 1)))

layout = column(row(*panels[:5]), row(*panels[5:]))

open("out.html", "w").write(file_html(layout, INLINE))
